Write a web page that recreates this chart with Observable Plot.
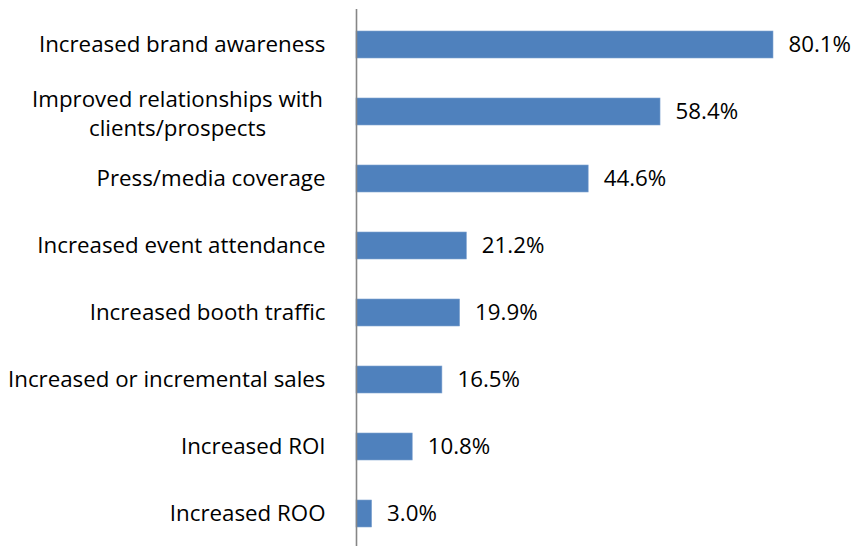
<!DOCTYPE html>
<html>
<head>
<meta charset="utf-8">
<script src="https://cdn.jsdelivr.net/npm/d3@7"></script>
<script src="https://cdn.jsdelivr.net/npm/@observablehq/plot@0.6"></script>
<style>
  html, body { margin: 0; padding: 0; background: #fff; }
  #chart svg { display: block; }
</style>
</head>
<body>
<div id="chart"></div>
<script>
const categories = [
  "Increased brand awareness",
  "Improved relationships with\nclients/prospects",
  "Press/media coverage",
  "Increased event attendance",
  "Increased booth traffic",
  "Increased or incremental sales",
  "Increased ROI",
  "Increased ROO"
];
const values = [80.1, 58.4, 44.6, 21.2, 19.9, 16.5, 10.8, 3.0];
const valueLabels = ["80.1%", "58.4%", "44.6%", "21.2%", "19.9%", "16.5%", "10.8%", "3.0%"];

const data = categories.map((c, i) => ({category: c, value: values[i], label: valueLabels[i]}));
const single = data.filter(d => !d.category.includes("\n"));
const multi = data.filter(d => d.category.includes("\n"));

const font = "'Open Sans', Lato, sans-serif";
const fs = 22.3;

const chart = Plot.plot({
  width: 856,
  height: 546,
  marginLeft: 356,
  marginRight: 83,
  marginTop: 9,
  marginBottom: 0,
  style: {fontFamily: font, fontSize: fs + "px", color: "#000", background: "#fff"},
  x: {domain: [0, 80.1], axis: null},
  y: {domain: categories, range: [8.8, 548.2], paddingInner: 0.6, paddingOuter: 0.3, axis: null},
  marks: [
    Plot.barX(data, {x: "value", y: "category", fill: "#4F81BD", stroke: "#7FA3D0", strokeWidth: 0.6}),
    Plot.ruleX([0], {stroke: "#868686", strokeWidth: 1.6}),
    Plot.text(data, {x: "value", y: "category", text: "label", dx: 15, textAnchor: "start", fill: "#000", fontSize: fs}),
    Plot.text(single, {x: 0, y: "category", text: "category", dx: -31, textAnchor: "end", fill: "#000", fontSize: fs}),
    Plot.text(multi, {x: 0, y: "category", text: "category", dx: -179, textAnchor: "middle", fill: "#000", fontSize: fs, lineHeight: 1.32})
  ]
});
document.getElementById("chart").appendChild(chart);
</script>
</body>
</html>
